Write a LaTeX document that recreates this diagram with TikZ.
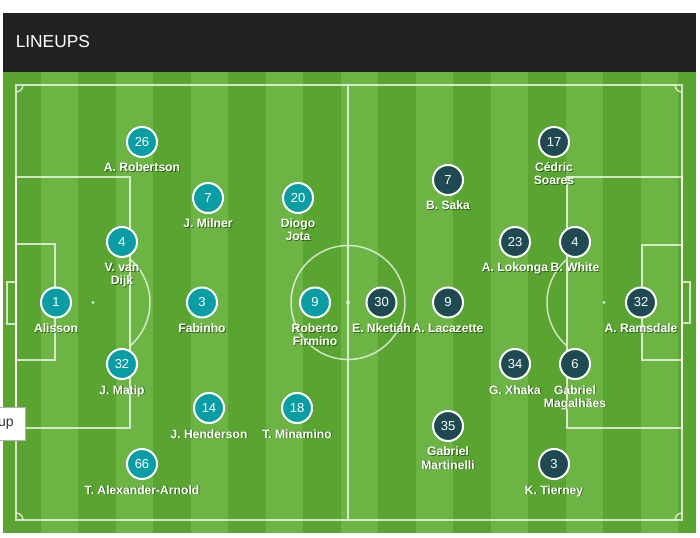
\documentclass[tikz,border=0pt]{standalone}
\usepackage{fontspec}
\setmainfont{Liberation Sans}
\definecolor{hdr}{HTML}{222222}
\definecolor{gdark}{RGB}{90,165,49}
\definecolor{glight}{RGB}{108,181,68}
\definecolor{lfc}{RGB}{10,158,164}
\definecolor{afc}{RGB}{31,74,82}
% optional #1: extra baseline offset (13 for a two-line label, whose base anchor is its last line)
\newcommand\plr[7][0]{%
  \node[pcirc,fill=#5] (#2) at (#3,#4) {#6};
  \node[plbl,text=black,opacity=.45] (#2-shadow) at (#3+0.9,#4+30.9+#1) {#7};
  \node[plbl] (#2-label) at (#3,#4+30+#1) {#7};
}
\begin{document}
\begin{tikzpicture}[x=0.75pt,y=-0.75pt,
  pline/.style={draw=white,draw opacity=.72,line width=1.1pt},
  pcirc/.style={circle,draw=white,line width=1.5pt,minimum size=22.5pt,inner sep=0pt,text=white,font=\fontsize{9.75}{10}\selectfont},
  plbl/.style={anchor=base,align=center,inner sep=0pt,text=white,font=\bfseries\fontsize{9.1}{9.75}\selectfont},
  spot/.style={fill=white,fill opacity=.72}]
\useasboundingbox (0,0) rectangle (700,538);
\fill[white] (0,0) rectangle (700,538);
% header
\fill[hdr] (3,13) rectangle (696,72);
\node[anchor=west,inner sep=0pt,text=white,font=\fontsize{13}{15}\selectfont] (title) at (15.5,42) {LINEUPS};
% stripes
\foreach \k in {0,...,18}{
  \pgfmathsetmacro\xa{3+37.5*\k}
  \pgfmathsetmacro\xb{min(3+37.5*(\k+1),696)}
  \pgfmathparse{mod(\k,2)==0?1:0}
  \ifnum\pgfmathresult=1
    \fill[gdark] (\xa,72) rectangle (\xb,533);
  \else
    \fill[glight] (\xa,72) rectangle (\xb,533);
  \fi
}
% pitch
\draw[pline] (16,85) rectangle (682,520);
\draw[pline] (348,85) -- (348,520);
\draw[pline] (348,302.5) circle[radius=57];
\fill[spot] (348,302.5) circle[radius=2];
\draw[pline] (16,177) rectangle (130,428);
\draw[pline] (16,244) rectangle (55,360);
\draw[pline] (7,282) rectangle (16,324);
\fill[spot] (93,302.5) circle[radius=1.6];
\draw[pline] (130.4,259.5) arc[start angle=-49,end angle=49,radius=57];
\draw[pline] (567,177) rectangle (682,428);
\draw[pline] (642,245) rectangle (682,360);
\draw[pline] (682,282) rectangle (690,323);
\fill[spot] (604,302.5) circle[radius=1.6];
\draw[pline] (566.6,259.5) arc[start angle=229,end angle=131,radius=57];
\draw[pline] (23,85) arc[start angle=0,end angle=90,radius=7];
\draw[pline] (682,92) arc[start angle=90,end angle=180,radius=7];
\draw[pline] (23,520) arc[start angle=0,end angle=-90,radius=7];
\draw[pline] (675,520) arc[start angle=180,end angle=270,radius=7];
% Liverpool
\plr{robertson}{142}{142}{lfc}{26}{A. Robertson}
\plr{milner}{208}{198}{lfc}{7}{J. Milner}
\plr[13]{vandijk}{122}{242}{lfc}{4}{V. van\\Dijk}
\plr{alisson}{56}{302.5}{lfc}{1}{Alisson}
\plr{fabinho}{202}{302.5}{lfc}{3}{Fabinho}
\plr{matip}{122}{364}{lfc}{32}{J. Matip}
\plr{henderson}{209}{408}{lfc}{14}{J. Henderson}
\plr{taa}{142}{464}{lfc}{66}{T. Alexander-Arnold}
\plr[13]{jota}{298}{198}{lfc}{20}{Diogo\\Jota}
\plr[13]{firmino}{315}{302.5}{lfc}{9}{Roberto\\Firmino}
\plr{minamino}{297}{408}{lfc}{18}{T. Minamino}
% Arsenal
\plr{nketiah}{381.5}{302.5}{afc}{30}{E. Nketiah}
\plr{saka}{448}{180}{afc}{7}{B. Saka}
\plr[13]{soares}{554}{142}{afc}{17}{Cédric\\Soares}
\plr{lokonga}{515}{242}{afc}{23}{A. Lokonga}
\plr{white}{575}{242}{afc}{4}{B. White}
\plr{lacazette}{448}{302.5}{afc}{9}{A. Lacazette}
\plr{ramsdale}{641}{302.5}{afc}{32}{A. Ramsdale}
\plr{xhaka}{515}{364}{afc}{34}{G. Xhaka}
\plr[13]{gabriel}{575}{364}{afc}{6}{Gabriel\\Magalhães}
\plr[13]{martinelli}{448}{426}{afc}{35}{Gabriel\\Martinelli}
\plr{tierney}{554}{464}{afc}{3}{K. Tierney}
% tooltip
\draw[fill=white,draw=black!30] (-3,407) rectangle (25,440);
\node[anchor=east,inner sep=0pt,text=black!80,font=\fontsize{10.5}{12}\selectfont] (tip) at (14,424) {up};
\end{tikzpicture}
\end{document}
